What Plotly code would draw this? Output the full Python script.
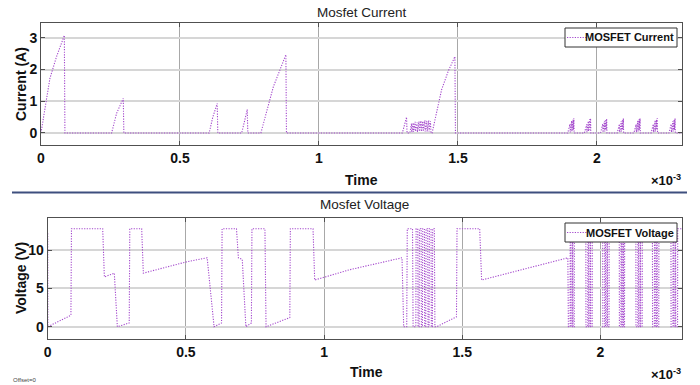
import plotly.graph_objects as go

# ---------------- data (time in units of 1e-3 s) ----------------
cur_t = [0, 0.032, 0.056, 0.070, 0.084, 0.086,
         0.254, 0.272, 0.286, 0.296, 0.298,
         0.605, 0.618, 0.634, 0.636,
         0.722, 0.733, 0.742, 0.744,
         0.791, 0.836, 0.860, 0.881, 0.883,
         1.300, 1.315, 1.317, 1.327,
         1.333, 1.334, 1.339, 1.340, 1.346, 1.347, 1.353, 1.354, 1.360, 1.361,
         1.367, 1.368, 1.374, 1.375, 1.381, 1.382, 1.388, 1.389, 1.395, 1.396,
         1.401, 1.403,
         1.407, 1.441, 1.465, 1.489, 1.491,
         1.895, 1.903, 1.904, 1.909, 1.910, 1.914, 1.915, 1.917, 1.918,
         1.955, 1.963, 1.964, 1.969, 1.970, 1.974, 1.975, 1.977, 1.978,
         2.013, 2.021, 2.022, 2.027, 2.028, 2.032, 2.033, 2.035, 2.036,
         2.073, 2.081, 2.082, 2.087, 2.088, 2.092, 2.093, 2.095, 2.096,
         2.133, 2.141, 2.142, 2.147, 2.148, 2.152, 2.153, 2.155, 2.156,
         2.195, 2.203, 2.204, 2.209, 2.210, 2.214, 2.215, 2.217, 2.218,
         2.259, 2.267, 2.268, 2.273, 2.274, 2.278, 2.279, 2.281, 2.282,
         2.306]
cur_i = [0, 1.72, 2.41, 2.75, 3.08, 0,
         0, 0.62, 0.90, 1.09, 0,
         0, 0.50, 0.93, 0,
         0, 0.40, 0.74, 0,
         0, 1.46, 2.00, 2.47, 0,
         0, 0.50, 0, 0,
         0.30, 0.02, 0.32, 0.03, 0.35, 0.05, 0.33, 0.03, 0.36, 0.05,
         0.38, 0.05, 0.37, 0.05, 0.40, 0.05, 0.38, 0.04, 0.40, 0.05,
         0.37, 0,
         0, 1.36, 1.95, 2.41, 0,
         0, 0.28, 0.02, 0.38, 0.05, 0.42, 0.10, 0.46, 0,
         0, 0.27, 0.02, 0.37, 0.05, 0.43, 0.10, 0.46, 0,
         0, 0.28, 0.02, 0.38, 0.05, 0.42, 0.10, 0.45, 0,
         0, 0.28, 0.02, 0.37, 0.05, 0.42, 0.10, 0.46, 0,
         0, 0.27, 0.02, 0.38, 0.05, 0.43, 0.10, 0.46, 0,
         0, 0.28, 0.02, 0.38, 0.05, 0.42, 0.10, 0.46, 0,
         0, 0.28, 0.02, 0.37, 0.05, 0.42, 0.10, 0.46, 0,
         0]

volt_t = [0, 0.0005, 0.084, 0.086, 0.199, 0.205, 0.241, 0.252, 0.295, 0.297,
          0.340, 0.346, 0.500, 0.577, 0.602, 0.629, 0.631, 0.683, 0.690, 0.704,
          0.717, 0.737, 0.739, 0.786, 0.790, 0.876, 0.878, 0.960, 0.966, 1.093,
          1.282, 1.288, 1.299, 1.301, 1.320, 1.322, 1.332,
          1.333, 1.339, 1.340, 1.344, 1.345, 1.351, 1.352, 1.356, 1.357, 1.363,
          1.364, 1.368, 1.369, 1.375, 1.376, 1.380, 1.381, 1.387, 1.388, 1.392,
          1.393, 1.399, 1.401,
          1.407, 1.479, 1.481, 1.563, 1.570, 1.882, 1.884,
          1.890, 1.8905, 1.893, 1.8935, 1.898, 1.8985, 1.900, 1.9005, 1.905, 1.9055, 1.947,
          1.9475, 1.954, 1.9545, 1.957, 1.9575, 1.962, 1.9625, 1.964, 1.9645, 1.970, 1.9705, 2.008,
          2.0085, 2.015, 2.0155, 2.018, 2.0185, 2.023, 2.0235, 2.025, 2.0255, 2.031, 2.0315, 2.068,
          2.0685, 2.074, 2.0745, 2.077, 2.0775, 2.081, 2.0815, 2.083, 2.0835, 2.087, 2.0875, 2.128,
          2.1285, 2.135, 2.1355, 2.138, 2.1385, 2.143, 2.1435, 2.145, 2.1455, 2.151, 2.1515, 2.188,
          2.1885, 2.195, 2.1955, 2.198, 2.1985, 2.203, 2.2035, 2.205, 2.2055, 2.211, 2.2115, 2.255,
          2.2555, 2.262, 2.2625, 2.265, 2.2655, 2.270, 2.2705, 2.272, 2.2725, 2.279, 2.2795, 2.295]
volt_v = [12.2, 0, 1.5, 12.8, 12.8, 6.5, 7.0, 0, 0.5, 12.8,
          12.8, 7.0, 8.45, 9.0, 0, 0.5, 12.8, 12.8, 9.0, 8.8,
          0, 0.5, 12.8, 12.8, 0, 1.2, 12.8, 12.8, 6.1, 7.45,
          9.0, 0, 0, 12.8, 12.8, 0, 0,
          12.8, 12.8, 0, 0, 12.8, 12.8, 0, 0, 12.8, 12.8,
          0, 0, 12.8, 12.8, 0, 0, 12.8, 12.8, 0, 0,
          12.8, 12.8, 0,
          0, 1.3, 12.8, 12.8, 6.1, 9.0, 0,
          0, 12.8, 12.8, 0, 0, 12.8, 12.8, 0, 0, 12.8, 12.8,
          0, 0, 12.8, 12.8, 0, 0, 12.8, 12.8, 0, 0, 12.8, 12.8,
          0, 0, 12.8, 12.8, 0, 0, 12.8, 12.8, 0, 0, 12.8, 12.8,
          0, 0, 12.8, 12.8, 0, 0, 12.8, 12.8, 0, 0, 12.8, 12.8,
          0, 0, 12.8, 12.8, 0, 0, 12.8, 12.8, 0, 0, 12.8, 12.8,
          0, 0, 12.8, 12.8, 0, 0, 12.8, 12.8, 0, 0, 12.8, 12.8,
          0, 0, 12.8, 12.8, 0, 0, 12.8, 12.8, 0, 0, 12.8, 12.8]

x_tickvals = [0, 0.5, 1, 1.5, 2]
x_ticktext = ["0", "0.5", "1", "1.5", "2"]
cur_tickvals = [0, 1, 2, 3]
volt_tickvals = [0, 5, 10]

# ---------------- styling ----------------
W, H = 700, 385
LINE_COLOR = "#a347cc"
DASH = "1.2px,1.4px"
FONT = "Liberation Sans Narrow, Liberation Sans, Arial, sans-serif"
BOLD = dict(family=FONT, size=14, color="#111", weight="bold")
def fx(px): return px / W
def fy(py): return 1 - py / H

fig = go.Figure()
fig.add_trace(go.Scatter(x=cur_t, y=cur_i, mode="lines", name="MOSFET Current",
                         line=dict(color=LINE_COLOR, width=1.1, dash=DASH),
                         xaxis="x", yaxis="y", showlegend=False))
fig.add_trace(go.Scatter(x=volt_t, y=volt_v, mode="lines", name="MOSFET Voltage",
                         line=dict(color=LINE_COLOR, width=1.1, dash=DASH),
                         xaxis="x2", yaxis="y2", showlegend=False))

axis_common = dict(showline=True, mirror="ticks", linecolor="#505050", linewidth=1,
                   ticks="inside", ticklen=4, tickcolor="#505050",
                   zeroline=False, showgrid=True, automargin=False,
                   tickfont=BOLD)

fig.update_layout(
    width=W, height=H, margin=dict(l=0, r=0, t=0, b=0, autoexpand=False),
    paper_bgcolor="white", plot_bgcolor="white",
    xaxis=dict(domain=[fx(41), fx(682)], range=[0, 2.306], anchor="y",
               tickvals=x_tickvals, ticktext=x_ticktext, gridcolor="#a8a8a8",
               **axis_common),
    yaxis=dict(domain=[fy(145), fy(23)], range=[-0.38, 3.47], anchor="x",
               tickvals=cur_tickvals, gridcolor="#d6d6d6", gridwidth=1.5,
               **axis_common),
    xaxis2=dict(domain=[fx(47.7), fx(682)], range=[0, 2.295], anchor="y2",
                tickvals=x_tickvals, ticktext=x_ticktext, gridcolor="#a8a8a8",
                **axis_common),
    yaxis2=dict(domain=[fy(339), fy(218)], range=[-1.6, 14.2], anchor="x2",
                tickvals=volt_tickvals, gridcolor="#d6d6d6", gridwidth=1.5,
                **axis_common),
)

def ann(text, x, y, font, xanchor="center", textangle=0):
    return dict(text=text, x=fx(x), y=fy(y), xref="paper", yref="paper",
                showarrow=False, xanchor=xanchor, yanchor="middle",
                textangle=textangle, font=font)

TITLE_FONT = dict(family=FONT, size=13.5, color="#222")
LEG_FONT = dict(family=FONT, size=11, color="#111", weight="bold")
annotations = [
    ann("Mosfet Current", 362, 12, TITLE_FONT),
    ann("Mosfet Voltage", 364, 205, TITLE_FONT),
    ann("Time", 361, 180, BOLD),
    ann("Time", 367, 372, BOLD),
    ann("Current (A)", 21, 84, BOLD, textangle=-90),
    ann("Voltage (V)", 21, 278, BOLD, textangle=-90),
    ann("×10<sup>-3</sup>", 683, 180, dict(family=FONT, size=13, color="#111", weight="bold"), xanchor="right"),
    ann("×10<sup>-3</sup>", 683, 374, dict(family=FONT, size=13, color="#111", weight="bold"), xanchor="right"),
    ann("Offset=0", 11, 380, dict(family=FONT, size=6, color="#444"), xanchor="left"),
    ann("MOSFET Current", 676, 37.5, LEG_FONT, xanchor="right"),
    ann("MOSFET Voltage", 676, 232.5, LEG_FONT, xanchor="right"),
]
fig.update_layout(annotations=annotations)

shapes = [
    # separator line between the two panels
    dict(type="line", xref="paper", yref="paper", x0=fx(12), x1=fx(687), y0=fy(192.5), y1=fy(192.5),
         line=dict(color="#3e4f7e", width=2)),
    # legend boxes
    dict(type="rect", xref="paper", yref="paper", x0=fx(565), x1=fx(677), y0=fy(47), y1=fy(28),
         line=dict(color="#333", width=1), fillcolor="white", layer="above"),
    dict(type="rect", xref="paper", yref="paper", x0=fx(565), x1=fx(677), y0=fy(242), y1=fy(223),
         line=dict(color="#333", width=1), fillcolor="white", layer="above"),
    # legend sample lines
    dict(type="line", xref="paper", yref="paper", x0=fx(567), x1=fx(587), y0=fy(37.5), y1=fy(37.5),
         line=dict(color=LINE_COLOR, width=1.1, dash=DASH), layer="above"),
    dict(type="line", xref="paper", yref="paper", x0=fx(567), x1=fx(587), y0=fy(232.5), y1=fy(232.5),
         line=dict(color=LINE_COLOR, width=1.1, dash=DASH), layer="above"),
]
fig.update_layout(shapes=shapes)

fig.write_html("out.html", config={"displayModeBar": False},
               post_script="document.body.style.margin='0';document.body.style.padding='0';")
